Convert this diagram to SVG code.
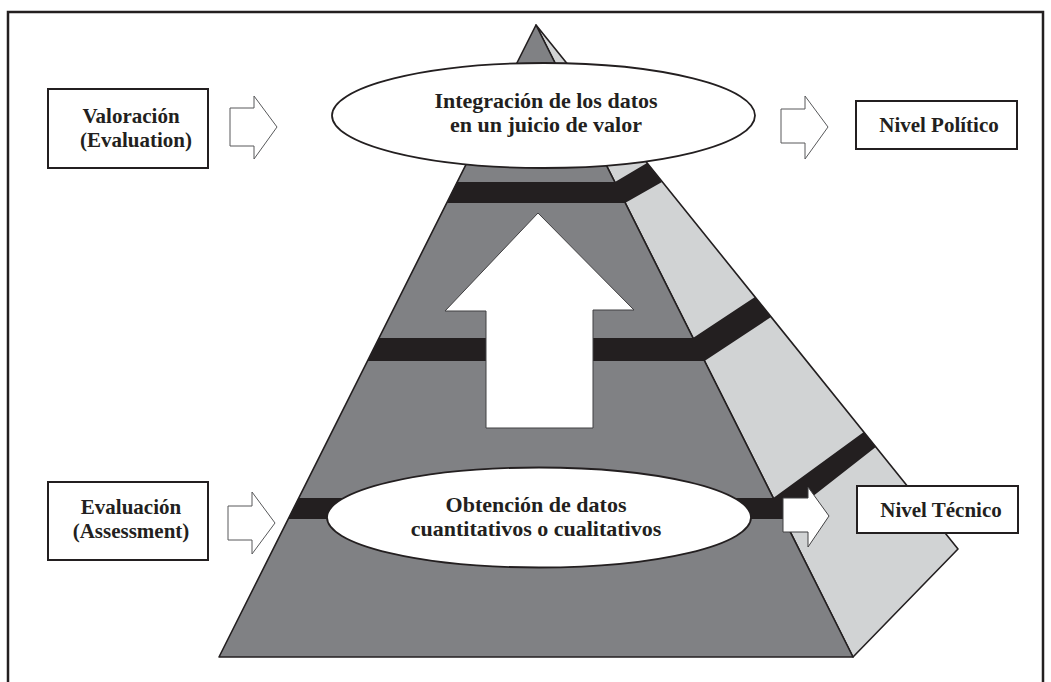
<svg xmlns="http://www.w3.org/2000/svg" width="1051" height="682" viewBox="0 0 1051 682">
<style>
.front{fill:#808184;stroke:#231f20;stroke-width:1.6;stroke-linejoin:round}
.side{fill:#d1d3d4;stroke:#231f20;stroke-width:1.6;stroke-linejoin:round}
.band{fill:#231f20}
.ell{fill:#fff;stroke:#231f20;stroke-width:1.8}
.box{fill:#fff;stroke:#231f20;stroke-width:2}
.hollow{fill:#fff;stroke:#58595b;stroke-width:1}
.solid{fill:#fff;stroke:#414042;stroke-width:1}
text{font-family:"Liberation Serif","Times New Roman",serif;font-weight:bold;fill:#231f20;text-anchor:middle}
.t22{font-size:22px}
.t21{font-size:21px}
</style>
<rect width="1051" height="682" fill="#fff"/>
<path d="M8,690 V12 H1043 V690" fill="none" stroke="#231f20" stroke-width="2.5"/>
<g id="pyramid">
<polygon class="side" points="536,25 958,549 853,657"/>
<polygon class="front" points="536,25 853,657 219,657"/>
<polygon class="band" points="457,182 615,182 647,163 662,182 625,203 447,203"/>
<polygon class="band" points="379,338 693,338 755,297 771,317 704.5,361 367.5,361"/>
<polygon class="band" points="298.7,498 773.3,498 863.8,432 875.8,447 783.8,519 288.2,519"/>
</g>
<g id="connectors">
<polygon class="solid" points="538,213 634,310 593,310 593,428 486,428 486,311 445,311"/>
<polygon class="hollow" points="230,108 254,108 254,96 277,127 254,159 254,146 230,146"/>
<polygon class="hollow" points="781,109 805,109 805,96 828,127 805,159 805,143 781,143"/>
<polygon class="hollow" points="228,506 252,506 252,492 275,523 252,554 252,540 228,540"/>
<polygon class="solid" points="783,498 808,498 808,487 829,516 808,547 808,532 783,532"/>
</g>
<g id="integracion">
<ellipse class="ell" cx="543.5" cy="115.5" rx="211.5" ry="52.5"/>
<text class="t22" x="546" y="108">Integración de los datos</text>
<text class="t22" x="546" y="132">en un juicio de valor</text>
</g>
<g id="obtencion">
<ellipse class="ell" cx="539" cy="517.5" rx="212" ry="50"/>
<text class="t22" x="536" y="512">Obtención de datos</text>
<text class="t22" x="536" y="536">cuantitativos o cualitativos</text>
</g>
<g id="valoracion">
<rect class="box" x="48" y="89" width="160" height="79"/>
<text class="t21" x="131" y="123">Valoración</text>
<text class="t21" x="136" y="147">(Evaluation)</text>
</g>
<g id="evaluacion">
<rect class="box" x="48" y="482" width="160" height="78"/>
<text class="t21" x="131" y="514">Evaluación</text>
<text class="t21" x="131" y="538">(Assessment)</text>
</g>
<g id="politico">
<rect class="box" x="856" y="101" width="161" height="48"/>
<text class="t21" x="939" y="132">Nivel Político</text>
</g>
<g id="tecnico">
<rect class="box" x="857" y="486" width="161" height="47"/>
<text class="t21" x="941" y="517">Nivel Técnico</text>
</g>
</svg>
